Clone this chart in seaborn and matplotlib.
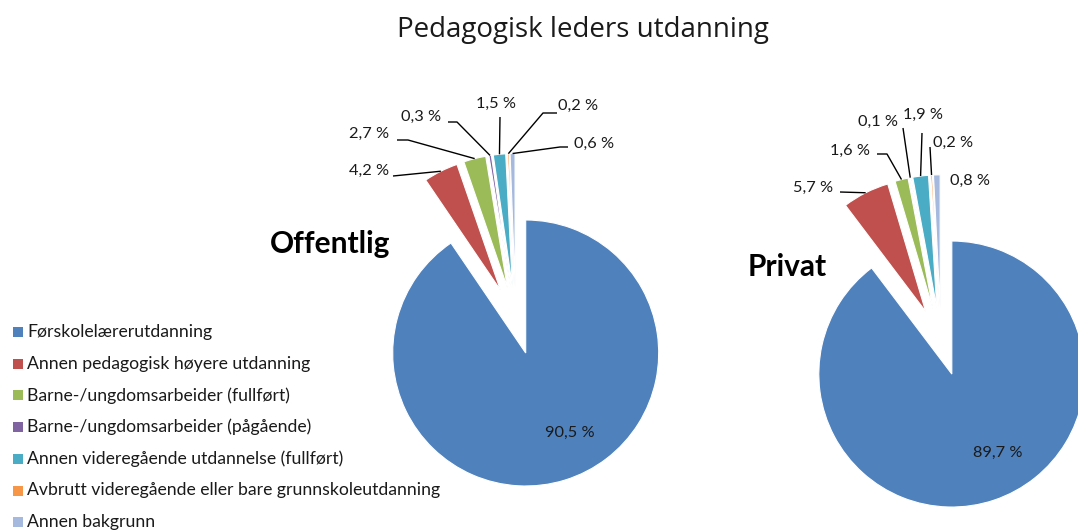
import numpy as np
import matplotlib
matplotlib.use("Agg")
import matplotlib.pyplot as plt
import matplotlib.patches as mpatches
import seaborn as sns

# ---------------- data ----------------
categories = [
    "Førskolelærerutdanning",
    "Annen pedagogisk høyere utdanning",
    "Barne-/ungdomsarbeider (fullført)",
    "Barne-/ungdomsarbeider (pågående)",
    "Annen videregående utdannelse (fullført)",
    "Avbrutt videregående eller bare grunnskoleutdanning",
    "Annen bakgrunn",
]
offentlig = [90.5, 4.2, 2.7, 0.3, 1.5, 0.2, 0.6]
privat = [89.7, 5.7, 1.6, 0.1, 1.9, 0.2, 0.8]
group_names = ["Offentlig", "Privat"]
title = "Pedagogisk leders utdanning"

colors = ["#4F81BD", "#C0504D", "#9BBB59", "#8064A2", "#4BACC6", "#F79646", "#A5B9DF"]

# ---------------- layout (pixel coords, y from top) ----------------
W, H = 1078, 531
sns.set_theme(style="white")
plt.rcParams["font.family"] = ["Lato", "DejaVu Sans"]

fig = plt.figure(figsize=(W / 100, H / 100), dpi=100)
ax = fig.add_axes([0, 0, 1, 1])


def Y(py):
    return H - py


radius = 133
explode_dist = 34
pies = [
    dict(values=offentlig, center=(515.7, 320.5), name_pos=(330, 244),
         big_pos=(570, 433),
         # (text x, text y, ha, line anchor, optional elbow)
         small=[
             (369, 171, "center", (393, 176), None),
             (369, 134, "center", (397, 140), (408, 140)),
             (421, 117, "center", (448, 122), (457, 122)),
             (496, 104, "center", (500, 117), None),
             (578, 106, "center", (557, 113), (543, 113)),
             (594, 144, "center", (568, 147), (560, 147)),
         ]),
    dict(values=privat, center=(941.0, 341.8), name_pos=(787, 267),
         big_pos=(998, 453),
         small=[
             (813, 188, "center", (840, 192), None),
             (850, 151, "center", (877, 154), (887, 154)),
             (878, 122, "center", (903, 128), None),
             (923, 115, "center", (922, 133), None),
             (953, 143, "center", (930, 147), None),
             (970, 181, "center", None, None),
         ]),
]


def fmt(v):
    return f"{v:.1f}".replace(".", ",") + " %"


for p, gname in zip(pies, group_names):
    cx, cy = p["center"]
    wedges, _ = ax.pie(
        p["values"], colors=colors, startangle=90, counterclock=False,
        radius=radius, center=(cx, Y(cy)),
        explode=[explode_dist] * len(p["values"]),
        wedgeprops=dict(edgecolor="white", linewidth=0.8),
    )
    # big slice label
    bx, by = p["big_pos"]
    ax.text(bx, Y(by), fmt(p["values"][0]), ha="center", va="center",
            fontsize=11.8, color="#1a1a1a")
    # small slice labels with leader lines
    for w, v, (tx, ty, ha, anchor, elbow) in zip(wedges[1:], p["values"][1:], p["small"]):
        ax.text(tx, Y(ty), fmt(v), ha=ha, va="center", fontsize=11.8, color="#1a1a1a")
        if anchor is None:
            continue
        tm = np.deg2rad(0.5 * (w.theta1 + w.theta2))
        ex = w.center[0] + w.r * np.cos(tm)
        ey = w.center[1] + w.r * np.sin(tm)
        xs = [anchor[0]]
        ys = [Y(anchor[1])]
        if elbow is not None:
            xs.append(elbow[0])
            ys.append(Y(elbow[1]))
        xs.append(ex)
        ys.append(ey)
        ax.plot(xs, ys, color="black", lw=1, solid_capstyle="butt")
    nx, ny = p["name_pos"]
    ax.text(nx, Y(ny), gname, ha="center", va="center", fontsize=21.5,
            fontweight="bold", color="black")

# title
ax.text(583, Y(30), title, ha="center", va="center", fontsize=20,
        family=["Open Sans", "DejaVu Sans"], color="#1a1a1a")

# legend (manual)
leg_y0, leg_dy = 332, 31.7
for i, (c, lab) in enumerate(zip(colors, categories)):
    yy = leg_y0 + i * leg_dy
    ax.add_patch(mpatches.Rectangle((13, Y(yy) - 5), 10, 10, color=c, lw=0))
    ax.text(27, Y(yy), lab, ha="left", va="center", fontsize=12.7, color="#1a1a1a")

ax.set_xlim(0, W)
ax.set_ylim(0, H)
ax.set_aspect("equal")
ax.axis("off")
fig.savefig("out.png", dpi=100)
